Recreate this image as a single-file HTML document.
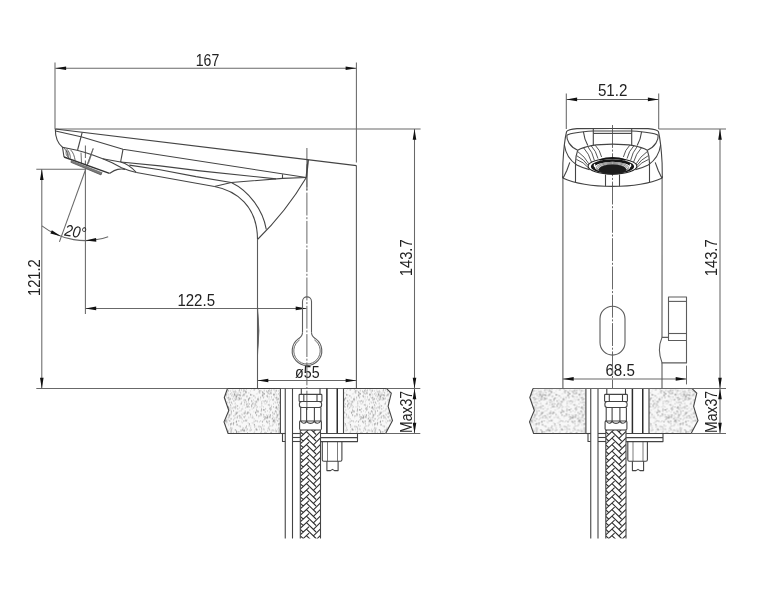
<!DOCTYPE html>
<html lang="en"><head><meta charset="utf-8"><title>Faucet dimension drawing</title>
<style>
html,body{margin:0;padding:0;background:#fff;}
body{width:770px;height:600px;overflow:hidden;}
svg{display:block;filter:grayscale(1);}
.o{fill:none;stroke:#5c5c5c;stroke-width:1.1;stroke-linecap:butt;stroke-linejoin:round;}
.d{fill:none;stroke:#686868;stroke-width:1.05;}
.c{fill:none;stroke:#686868;stroke-width:1.0;stroke-dasharray:22.9 1.7 2.0 1.7;}
.a{fill:#111;stroke:none;}
.u .o{stroke:#444;}
.t{font-family:"Liberation Sans",sans-serif;font-size:16.2px;fill:#222;}
.i{font-style:italic;}
</style></head>
<body>
<svg width="770" height="600" viewBox="0 0 770 600">
<defs>
<pattern id="stip" x="224" y="388.45" width="48" height="45" patternUnits="userSpaceOnUse">
<rect width="48" height="45" fill="#f8f8f8"/>
<circle cx="15.5" cy="6.8" r="0.50" fill="#7c7c7c"/>
<circle cx="39.4" cy="4.2" r="0.48" fill="#848484"/>
<circle cx="10.3" cy="3.9" r="0.44" fill="#8c8c8c"/>
<circle cx="4.4" cy="19.1" r="0.55" fill="#7c7c7c"/>
<circle cx="45.5" cy="28.4" r="0.48" fill="#7c7c7c"/>
<circle cx="27.7" cy="17.9" r="0.59" fill="#7c7c7c"/>
<circle cx="26.7" cy="6.0" r="0.44" fill="#848484"/>
<circle cx="5.7" cy="13.9" r="0.55" fill="#8c8c8c"/>
<circle cx="4.9" cy="25.7" r="0.37" fill="#7c7c7c"/>
<circle cx="26.3" cy="2.8" r="0.34" fill="#8c8c8c"/>
<circle cx="23.8" cy="23.9" r="0.54" fill="#9c9c9c"/>
<circle cx="28.1" cy="20.4" r="0.40" fill="#8c8c8c"/>
<circle cx="33.6" cy="11.0" r="0.48" fill="#848484"/>
<circle cx="23.8" cy="15.5" r="0.45" fill="#848484"/>
<circle cx="47.0" cy="5.3" r="0.44" fill="#707070"/>
<circle cx="7.3" cy="22.0" r="0.33" fill="#7c7c7c"/>
<circle cx="36.7" cy="25.8" r="0.57" fill="#707070"/>
<circle cx="16.3" cy="15.8" r="0.46" fill="#9c9c9c"/>
<circle cx="3.3" cy="4.2" r="0.40" fill="#7c7c7c"/>
<circle cx="2.9" cy="31.6" r="0.50" fill="#9c9c9c"/>
<circle cx="13.7" cy="17.4" r="0.51" fill="#7c7c7c"/>
<circle cx="45.2" cy="16.0" r="0.49" fill="#9c9c9c"/>
<circle cx="2.8" cy="34.6" r="0.36" fill="#8c8c8c"/>
<circle cx="19.1" cy="41.3" r="0.46" fill="#8c8c8c"/>
<circle cx="21.6" cy="24.7" r="0.57" fill="#9c9c9c"/>
<circle cx="41.5" cy="12.5" r="0.44" fill="#707070"/>
<circle cx="32.8" cy="17.1" r="0.38" fill="#7c7c7c"/>
<circle cx="8.5" cy="10.4" r="0.39" fill="#9c9c9c"/>
<circle cx="39.9" cy="8.2" r="0.40" fill="#8c8c8c"/>
<circle cx="20.1" cy="16.6" r="0.48" fill="#8c8c8c"/>
<circle cx="33.1" cy="23.2" r="0.49" fill="#7c7c7c"/>
<circle cx="21.9" cy="39.2" r="0.59" fill="#848484"/>
<circle cx="18.8" cy="18.0" r="0.35" fill="#9c9c9c"/>
<circle cx="3.0" cy="3.0" r="0.38" fill="#8c8c8c"/>
<circle cx="5.3" cy="27.0" r="0.35" fill="#848484"/>
<circle cx="7.3" cy="4.6" r="0.42" fill="#7c7c7c"/>
<circle cx="3.4" cy="9.4" r="0.43" fill="#707070"/>
<circle cx="45.9" cy="27.1" r="0.45" fill="#7c7c7c"/>
<circle cx="40.7" cy="44.7" r="0.45" fill="#9c9c9c"/>
<circle cx="15.0" cy="6.5" r="0.53" fill="#707070"/>
<circle cx="23.0" cy="31.1" r="0.46" fill="#8c8c8c"/>
<circle cx="45.6" cy="23.8" r="0.36" fill="#848484"/>
<circle cx="43.9" cy="34.1" r="0.40" fill="#7c7c7c"/>
<circle cx="33.4" cy="11.8" r="0.42" fill="#8c8c8c"/>
<circle cx="17.1" cy="10.0" r="0.47" fill="#848484"/>
<circle cx="15.8" cy="10.0" r="0.55" fill="#8c8c8c"/>
<circle cx="38.7" cy="36.8" r="0.53" fill="#8c8c8c"/>
<circle cx="9.6" cy="22.2" r="0.52" fill="#7c7c7c"/>
<circle cx="37.9" cy="21.3" r="0.37" fill="#848484"/>
<circle cx="45.9" cy="20.1" r="0.58" fill="#707070"/>
<circle cx="45.8" cy="16.4" r="0.38" fill="#8c8c8c"/>
<circle cx="22.6" cy="15.2" r="0.46" fill="#848484"/>
<circle cx="40.3" cy="21.6" r="0.50" fill="#7c7c7c"/>
<circle cx="40.1" cy="5.4" r="0.43" fill="#8c8c8c"/>
<circle cx="22.9" cy="8.0" r="0.54" fill="#707070"/>
<circle cx="4.2" cy="42.6" r="0.52" fill="#9c9c9c"/>
<circle cx="19.3" cy="42.6" r="0.52" fill="#8c8c8c"/>
<circle cx="47.7" cy="1.2" r="0.49" fill="#9c9c9c"/>
<circle cx="38.7" cy="6.6" r="0.55" fill="#9c9c9c"/>
<circle cx="31.5" cy="15.8" r="0.47" fill="#8c8c8c"/>
<circle cx="1.0" cy="36.0" r="0.52" fill="#7c7c7c"/>
<circle cx="25.3" cy="42.0" r="0.44" fill="#8c8c8c"/>
<circle cx="39.7" cy="9.5" r="0.39" fill="#707070"/>
<circle cx="24.1" cy="34.4" r="0.41" fill="#848484"/>
<circle cx="20.1" cy="5.9" r="0.57" fill="#707070"/>
<circle cx="43.1" cy="29.8" r="0.55" fill="#848484"/>
<circle cx="20.2" cy="41.3" r="0.46" fill="#848484"/>
<circle cx="7.3" cy="23.0" r="0.56" fill="#8c8c8c"/>
<circle cx="29.2" cy="34.9" r="0.36" fill="#8c8c8c"/>
<circle cx="22.7" cy="32.6" r="0.48" fill="#707070"/>
<circle cx="32.8" cy="23.9" r="0.46" fill="#7c7c7c"/>
<circle cx="42.4" cy="2.6" r="0.37" fill="#7c7c7c"/>
<circle cx="37.1" cy="22.8" r="0.48" fill="#7c7c7c"/>
<circle cx="21.3" cy="27.6" r="0.46" fill="#848484"/>
<circle cx="9.6" cy="12.5" r="0.46" fill="#9c9c9c"/>
<circle cx="24.4" cy="11.1" r="0.47" fill="#707070"/>
<circle cx="44.3" cy="40.2" r="0.38" fill="#9c9c9c"/>
<circle cx="6.6" cy="5.5" r="0.44" fill="#7c7c7c"/>
<circle cx="32.2" cy="19.3" r="0.38" fill="#707070"/>
<circle cx="37.6" cy="40.4" r="0.36" fill="#707070"/>
<circle cx="6.9" cy="39.7" r="0.59" fill="#8c8c8c"/>
<circle cx="35.8" cy="4.2" r="0.57" fill="#8c8c8c"/>
<circle cx="47.5" cy="37.5" r="0.37" fill="#9c9c9c"/>
<circle cx="47.7" cy="18.2" r="0.44" fill="#707070"/>
<circle cx="15.3" cy="32.5" r="0.33" fill="#848484"/>
<circle cx="22.0" cy="31.6" r="0.43" fill="#848484"/>
<circle cx="29.9" cy="23.1" r="0.34" fill="#8c8c8c"/>
<circle cx="46.6" cy="4.7" r="0.39" fill="#7c7c7c"/>
<circle cx="43.5" cy="8.2" r="0.53" fill="#9c9c9c"/>
<circle cx="40.8" cy="30.4" r="0.58" fill="#9c9c9c"/>
<circle cx="7.2" cy="41.4" r="0.48" fill="#707070"/>
<circle cx="4.3" cy="2.6" r="0.51" fill="#9c9c9c"/>
<circle cx="43.0" cy="12.1" r="0.32" fill="#7c7c7c"/>
<circle cx="38.5" cy="3.8" r="0.56" fill="#7c7c7c"/>
<circle cx="12.7" cy="5.5" r="0.32" fill="#848484"/>
<circle cx="20.1" cy="41.2" r="0.49" fill="#7c7c7c"/>
<circle cx="25.3" cy="10.7" r="0.35" fill="#8c8c8c"/>
<circle cx="12.6" cy="8.2" r="0.58" fill="#707070"/>
<circle cx="25.5" cy="9.3" r="0.44" fill="#8c8c8c"/>
<circle cx="13.0" cy="36.2" r="0.60" fill="#7c7c7c"/>
<circle cx="0.7" cy="33.0" r="0.47" fill="#8c8c8c"/>
<circle cx="24.7" cy="11.1" r="0.45" fill="#9c9c9c"/>
<circle cx="31.5" cy="24.6" r="0.57" fill="#848484"/>
<circle cx="14.8" cy="9.7" r="0.38" fill="#8c8c8c"/>
<circle cx="39.9" cy="31.8" r="0.50" fill="#9c9c9c"/>
<circle cx="47.5" cy="44.2" r="0.55" fill="#7c7c7c"/>
<circle cx="3.4" cy="33.3" r="0.39" fill="#8c8c8c"/>
<circle cx="2.7" cy="29.9" r="0.43" fill="#848484"/>
<circle cx="32.2" cy="12.7" r="0.39" fill="#707070"/>
<circle cx="2.2" cy="8.3" r="0.40" fill="#7c7c7c"/>
<circle cx="12.6" cy="43.3" r="0.59" fill="#848484"/>
<circle cx="15.5" cy="1.6" r="0.57" fill="#8c8c8c"/>
<circle cx="17.1" cy="0.0" r="0.43" fill="#9c9c9c"/>
<circle cx="13.4" cy="29.5" r="0.39" fill="#7c7c7c"/>
<circle cx="4.4" cy="36.8" r="0.36" fill="#848484"/>
<circle cx="2.0" cy="1.0" r="0.41" fill="#8c8c8c"/>
<circle cx="4.1" cy="43.1" r="0.56" fill="#8c8c8c"/>
<circle cx="31.6" cy="32.2" r="0.57" fill="#9c9c9c"/>
<circle cx="36.7" cy="32.4" r="0.46" fill="#707070"/>
<circle cx="34.8" cy="28.9" r="0.33" fill="#848484"/>
<circle cx="30.1" cy="33.0" r="0.55" fill="#8c8c8c"/>
<circle cx="43.7" cy="33.9" r="0.48" fill="#7c7c7c"/>
<circle cx="39.7" cy="26.3" r="0.57" fill="#8c8c8c"/>
<circle cx="4.1" cy="1.9" r="0.50" fill="#7c7c7c"/>
<circle cx="18.1" cy="20.3" r="0.33" fill="#7c7c7c"/>
<circle cx="30.1" cy="30.6" r="0.46" fill="#7c7c7c"/>
<circle cx="21.9" cy="3.2" r="0.58" fill="#848484"/>
<circle cx="4.4" cy="23.7" r="0.53" fill="#9c9c9c"/>
<circle cx="12.1" cy="3.4" r="0.39" fill="#8c8c8c"/>
<circle cx="11.1" cy="29.2" r="0.45" fill="#9c9c9c"/>
<circle cx="3.7" cy="41.0" r="0.40" fill="#7c7c7c"/>
<circle cx="29.6" cy="28.9" r="0.34" fill="#8c8c8c"/>
<circle cx="15.9" cy="29.3" r="0.51" fill="#848484"/>
<circle cx="27.3" cy="0.6" r="0.34" fill="#707070"/>
<circle cx="46.7" cy="4.5" r="0.38" fill="#9c9c9c"/>
<circle cx="14.0" cy="23.2" r="0.45" fill="#9c9c9c"/>
<circle cx="36.8" cy="44.7" r="0.47" fill="#707070"/>
<circle cx="47.0" cy="42.1" r="0.32" fill="#9c9c9c"/>
<circle cx="3.7" cy="22.8" r="0.60" fill="#707070"/>
<circle cx="18.6" cy="41.2" r="0.58" fill="#7c7c7c"/>
<circle cx="27.9" cy="6.4" r="0.47" fill="#707070"/>
<circle cx="6.4" cy="36.9" r="0.46" fill="#7c7c7c"/>
<circle cx="33.8" cy="10.4" r="0.57" fill="#9c9c9c"/>
<circle cx="18.9" cy="7.2" r="0.59" fill="#9c9c9c"/>
<circle cx="19.5" cy="32.7" r="0.44" fill="#9c9c9c"/>
<circle cx="15.2" cy="37.8" r="0.32" fill="#707070"/>
<circle cx="40.3" cy="5.4" r="0.58" fill="#7c7c7c"/>
<circle cx="43.3" cy="13.0" r="0.42" fill="#9c9c9c"/>
<circle cx="18.7" cy="39.1" r="0.34" fill="#9c9c9c"/>
<circle cx="36.3" cy="38.4" r="0.40" fill="#7c7c7c"/>
<circle cx="40.1" cy="12.9" r="0.58" fill="#8c8c8c"/>
<circle cx="46.6" cy="19.6" r="0.41" fill="#707070"/>
<circle cx="37.7" cy="19.2" r="0.33" fill="#9c9c9c"/>
<circle cx="43.8" cy="42.3" r="0.47" fill="#7c7c7c"/>
<circle cx="2.4" cy="33.0" r="0.45" fill="#8c8c8c"/>
<circle cx="30.9" cy="12.9" r="0.33" fill="#848484"/>
<circle cx="6.1" cy="21.2" r="0.42" fill="#707070"/>
<circle cx="12.3" cy="33.2" r="0.50" fill="#9c9c9c"/>
<circle cx="31.5" cy="13.5" r="0.48" fill="#9c9c9c"/>
<circle cx="5.7" cy="28.9" r="0.34" fill="#848484"/>
<circle cx="43.5" cy="22.4" r="0.38" fill="#707070"/>
<circle cx="47.8" cy="20.2" r="0.36" fill="#8c8c8c"/>
<circle cx="11.7" cy="7.9" r="0.48" fill="#707070"/>
<circle cx="11.5" cy="11.6" r="0.48" fill="#7c7c7c"/>
<circle cx="36.0" cy="18.6" r="0.44" fill="#848484"/>
<circle cx="10.1" cy="12.2" r="0.53" fill="#9c9c9c"/>
<circle cx="13.3" cy="43.5" r="0.36" fill="#848484"/>
<circle cx="25.4" cy="35.6" r="0.56" fill="#7c7c7c"/>
<circle cx="13.0" cy="11.2" r="0.43" fill="#9c9c9c"/>
<circle cx="20.7" cy="14.0" r="0.55" fill="#7c7c7c"/>
<circle cx="6.1" cy="19.1" r="0.53" fill="#9c9c9c"/>
<circle cx="46.5" cy="22.0" r="0.34" fill="#848484"/>
<circle cx="41.1" cy="43.8" r="0.39" fill="#7c7c7c"/>
<circle cx="10.7" cy="6.8" r="0.59" fill="#7c7c7c"/>
<circle cx="45.2" cy="32.5" r="0.50" fill="#9c9c9c"/>
<circle cx="4.1" cy="35.0" r="0.32" fill="#8c8c8c"/>
<circle cx="11.2" cy="41.4" r="0.50" fill="#707070"/>
<circle cx="46.2" cy="28.2" r="0.47" fill="#9c9c9c"/>
<circle cx="33.5" cy="5.0" r="0.34" fill="#848484"/>
<circle cx="45.3" cy="8.6" r="0.39" fill="#848484"/>
<circle cx="0.1" cy="24.2" r="0.60" fill="#707070"/>
<circle cx="46.0" cy="29.0" r="0.57" fill="#9c9c9c"/>
<circle cx="25.3" cy="24.6" r="0.33" fill="#9c9c9c"/>
<circle cx="33.8" cy="13.8" r="0.33" fill="#9c9c9c"/>
<circle cx="42.5" cy="29.1" r="0.34" fill="#8c8c8c"/>
<circle cx="32.0" cy="41.6" r="0.38" fill="#7c7c7c"/>
<circle cx="33.4" cy="32.3" r="0.42" fill="#9c9c9c"/>
<circle cx="9.5" cy="35.9" r="0.53" fill="#848484"/>
<circle cx="3.2" cy="22.3" r="0.38" fill="#8c8c8c"/>
<circle cx="11.1" cy="10.0" r="0.53" fill="#707070"/>
<circle cx="5.2" cy="28.1" r="0.49" fill="#8c8c8c"/>
<circle cx="23.3" cy="41.0" r="0.34" fill="#848484"/>
<circle cx="7.0" cy="17.7" r="0.38" fill="#848484"/>
<circle cx="6.8" cy="2.3" r="0.34" fill="#9c9c9c"/>
<circle cx="21.6" cy="32.0" r="0.41" fill="#7c7c7c"/>
<circle cx="47.9" cy="41.9" r="0.41" fill="#8c8c8c"/>
<circle cx="31.3" cy="23.6" r="0.45" fill="#707070"/>
<circle cx="31.9" cy="17.0" r="0.42" fill="#707070"/>
<circle cx="21.2" cy="4.9" r="0.34" fill="#7c7c7c"/>
<circle cx="16.9" cy="43.0" r="0.35" fill="#8c8c8c"/>
<circle cx="18.2" cy="34.6" r="0.41" fill="#9c9c9c"/>
<circle cx="4.2" cy="31.7" r="0.37" fill="#848484"/>
<circle cx="44.1" cy="8.7" r="0.42" fill="#9c9c9c"/>
<circle cx="1.5" cy="18.5" r="0.55" fill="#9c9c9c"/>
<circle cx="2.0" cy="1.6" r="0.34" fill="#7c7c7c"/>
<circle cx="12.3" cy="33.6" r="0.57" fill="#707070"/>
<circle cx="17.4" cy="15.1" r="0.59" fill="#7c7c7c"/>
<circle cx="12.6" cy="32.2" r="0.41" fill="#707070"/>
<circle cx="14.3" cy="32.5" r="0.49" fill="#7c7c7c"/>
<circle cx="1.2" cy="10.5" r="0.45" fill="#9c9c9c"/>
<circle cx="45.8" cy="17.4" r="0.39" fill="#9c9c9c"/>
<circle cx="39.1" cy="6.0" r="0.46" fill="#7c7c7c"/>
<circle cx="38.5" cy="33.2" r="0.55" fill="#8c8c8c"/>
<circle cx="29.1" cy="14.8" r="0.41" fill="#707070"/>
<circle cx="37.6" cy="26.8" r="0.46" fill="#9c9c9c"/>
<circle cx="36.1" cy="11.1" r="0.34" fill="#7c7c7c"/>
<circle cx="23.1" cy="24.5" r="0.36" fill="#9c9c9c"/>
<circle cx="42.4" cy="44.5" r="0.39" fill="#7c7c7c"/>
<circle cx="10.0" cy="18.9" r="0.60" fill="#9c9c9c"/>
<circle cx="8.3" cy="6.0" r="0.45" fill="#8c8c8c"/>
<circle cx="35.9" cy="38.1" r="0.51" fill="#7c7c7c"/>
<circle cx="37.4" cy="13.2" r="0.40" fill="#707070"/>
<circle cx="17.9" cy="33.2" r="0.38" fill="#8c8c8c"/>
<circle cx="8.9" cy="10.6" r="0.40" fill="#848484"/>
<circle cx="9.0" cy="2.9" r="0.39" fill="#8c8c8c"/>
<circle cx="24.4" cy="10.4" r="0.55" fill="#9c9c9c"/>
<circle cx="47.6" cy="4.6" r="0.45" fill="#8c8c8c"/>
<circle cx="40.3" cy="41.1" r="0.33" fill="#707070"/>
<circle cx="11.2" cy="2.3" r="0.49" fill="#848484"/>
<circle cx="9.3" cy="3.4" r="0.46" fill="#8c8c8c"/>
<circle cx="21.6" cy="11.7" r="0.54" fill="#7c7c7c"/>
<circle cx="5.1" cy="26.8" r="0.49" fill="#8c8c8c"/>
<circle cx="1.8" cy="15.3" r="0.33" fill="#707070"/>
<circle cx="1.8" cy="33.0" r="0.58" fill="#7c7c7c"/>
<circle cx="39.3" cy="18.4" r="0.42" fill="#848484"/>
<circle cx="15.0" cy="9.2" r="0.54" fill="#848484"/>
<circle cx="23.2" cy="18.4" r="0.54" fill="#848484"/>
<circle cx="7.4" cy="24.0" r="0.50" fill="#9c9c9c"/>
<circle cx="33.4" cy="18.4" r="0.40" fill="#707070"/>
<circle cx="20.1" cy="2.3" r="0.53" fill="#707070"/>
<circle cx="19.9" cy="0.8" r="0.53" fill="#707070"/>
<circle cx="30.9" cy="17.6" r="0.43" fill="#7c7c7c"/>
<circle cx="20.8" cy="7.0" r="0.35" fill="#7c7c7c"/>
<circle cx="19.5" cy="39.7" r="0.45" fill="#8c8c8c"/>
<circle cx="6.2" cy="2.3" r="0.36" fill="#9c9c9c"/>
<circle cx="4.3" cy="28.0" r="0.42" fill="#848484"/>
<circle cx="8.2" cy="15.7" r="0.37" fill="#8c8c8c"/>
<circle cx="44.4" cy="4.9" r="0.46" fill="#8c8c8c"/>
<circle cx="14.5" cy="37.7" r="0.33" fill="#9c9c9c"/>
<circle cx="15.1" cy="27.3" r="0.50" fill="#7c7c7c"/>
<circle cx="43.4" cy="27.9" r="0.55" fill="#8c8c8c"/>
<circle cx="30.7" cy="38.5" r="0.49" fill="#848484"/>
<circle cx="40.6" cy="37.3" r="0.37" fill="#8c8c8c"/>
<circle cx="2.0" cy="42.2" r="0.36" fill="#707070"/>
<circle cx="5.9" cy="11.1" r="0.52" fill="#8c8c8c"/>
<circle cx="2.0" cy="25.3" r="0.53" fill="#7c7c7c"/>
<circle cx="32.1" cy="14.6" r="0.43" fill="#9c9c9c"/>
<circle cx="26.4" cy="28.2" r="0.41" fill="#9c9c9c"/>
<circle cx="14.8" cy="11.2" r="0.43" fill="#707070"/>
<circle cx="21.4" cy="19.7" r="0.33" fill="#848484"/>
<circle cx="47.3" cy="20.9" r="0.45" fill="#848484"/>
<circle cx="37.4" cy="20.6" r="0.37" fill="#9c9c9c"/>
<circle cx="19.2" cy="3.0" r="0.42" fill="#707070"/>
<circle cx="4.4" cy="19.9" r="0.46" fill="#7c7c7c"/>
<circle cx="2.0" cy="5.9" r="0.58" fill="#707070"/>
<circle cx="37.3" cy="23.0" r="0.34" fill="#848484"/>
<circle cx="43.0" cy="29.4" r="0.54" fill="#7c7c7c"/>
<circle cx="41.1" cy="44.8" r="0.52" fill="#7c7c7c"/>
<circle cx="9.3" cy="44.2" r="0.46" fill="#8c8c8c"/>
<circle cx="32.9" cy="32.4" r="0.38" fill="#707070"/>
<circle cx="29.3" cy="11.3" r="0.41" fill="#848484"/>
<circle cx="13.2" cy="36.7" r="0.36" fill="#848484"/>
<circle cx="46.3" cy="21.6" r="0.49" fill="#848484"/>
<circle cx="24.3" cy="14.4" r="0.33" fill="#8c8c8c"/>
<circle cx="19.4" cy="28.6" r="0.40" fill="#707070"/>
<circle cx="43.0" cy="7.6" r="0.54" fill="#7c7c7c"/>
<circle cx="36.9" cy="2.2" r="0.56" fill="#9c9c9c"/>
<circle cx="26.6" cy="26.1" r="0.57" fill="#7c7c7c"/>
<circle cx="12.1" cy="24.1" r="0.56" fill="#707070"/>
<circle cx="12.7" cy="44.6" r="0.48" fill="#707070"/>
<circle cx="15.9" cy="3.7" r="0.38" fill="#848484"/>
<circle cx="35.7" cy="2.2" r="0.55" fill="#707070"/>
<circle cx="14.9" cy="43.5" r="0.56" fill="#707070"/>
<circle cx="35.2" cy="33.6" r="0.38" fill="#707070"/>
<circle cx="29.6" cy="19.5" r="0.46" fill="#7c7c7c"/>
<circle cx="6.3" cy="10.2" r="0.50" fill="#7c7c7c"/>
<circle cx="2.6" cy="25.5" r="0.41" fill="#848484"/>
<circle cx="17.1" cy="10.1" r="0.48" fill="#848484"/>
<circle cx="6.4" cy="16.5" r="0.55" fill="#8c8c8c"/>
<circle cx="6.5" cy="42.1" r="0.39" fill="#8c8c8c"/>
<circle cx="21.6" cy="2.9" r="0.36" fill="#707070"/>
<circle cx="19.3" cy="11.9" r="0.32" fill="#848484"/>
<circle cx="42.8" cy="26.8" r="0.48" fill="#848484"/>
<circle cx="45.0" cy="33.0" r="0.39" fill="#7c7c7c"/>
<circle cx="2.1" cy="23.9" r="0.43" fill="#8c8c8c"/>
<circle cx="7.6" cy="41.0" r="0.35" fill="#848484"/>
<circle cx="26.4" cy="42.3" r="0.36" fill="#8c8c8c"/>
<circle cx="24.9" cy="28.9" r="0.50" fill="#9c9c9c"/>
<circle cx="39.0" cy="7.9" r="0.41" fill="#707070"/>
<circle cx="30.0" cy="44.7" r="0.52" fill="#9c9c9c"/>
<circle cx="34.3" cy="0.3" r="0.56" fill="#9c9c9c"/>
<circle cx="3.9" cy="29.5" r="0.37" fill="#7c7c7c"/>
<circle cx="12.5" cy="29.0" r="0.35" fill="#707070"/>
<circle cx="34.2" cy="12.0" r="0.48" fill="#9c9c9c"/>
<circle cx="32.9" cy="41.3" r="0.59" fill="#707070"/>
<circle cx="30.8" cy="43.4" r="0.38" fill="#848484"/>
<circle cx="0.7" cy="11.7" r="0.39" fill="#8c8c8c"/>
<circle cx="45.3" cy="33.6" r="0.41" fill="#9c9c9c"/>
<circle cx="15.8" cy="10.8" r="0.57" fill="#848484"/>
<circle cx="22.5" cy="37.8" r="0.52" fill="#7c7c7c"/>
<circle cx="21.0" cy="32.6" r="0.48" fill="#707070"/>
<circle cx="37.9" cy="17.6" r="0.48" fill="#848484"/>
<circle cx="43.7" cy="6.5" r="0.33" fill="#7c7c7c"/>
<circle cx="29.9" cy="7.3" r="0.59" fill="#7c7c7c"/>
<circle cx="1.5" cy="6.2" r="0.50" fill="#7c7c7c"/>
<circle cx="33.5" cy="33.2" r="0.34" fill="#848484"/>
<circle cx="36.6" cy="9.0" r="0.59" fill="#848484"/>
<circle cx="42.8" cy="3.0" r="0.56" fill="#9c9c9c"/>
<circle cx="5.1" cy="9.3" r="0.35" fill="#7c7c7c"/>
<circle cx="45.6" cy="41.0" r="0.53" fill="#7c7c7c"/>
<circle cx="39.6" cy="28.4" r="0.40" fill="#7c7c7c"/>
<circle cx="6.4" cy="35.6" r="0.50" fill="#707070"/>
<circle cx="15.3" cy="19.1" r="0.33" fill="#707070"/>
<circle cx="44.6" cy="2.2" r="0.53" fill="#707070"/>
<circle cx="36.9" cy="27.1" r="0.45" fill="#707070"/>
<circle cx="29.7" cy="1.4" r="0.44" fill="#9c9c9c"/>
<circle cx="24.9" cy="4.4" r="0.45" fill="#7c7c7c"/>
<circle cx="25.8" cy="9.7" r="0.56" fill="#7c7c7c"/>
<circle cx="27.6" cy="12.9" r="0.44" fill="#848484"/>
<circle cx="9.7" cy="34.3" r="0.59" fill="#7c7c7c"/>
<circle cx="16.7" cy="4.3" r="0.51" fill="#8c8c8c"/>
<circle cx="46.4" cy="26.7" r="0.59" fill="#848484"/>
<circle cx="12.5" cy="42.5" r="0.40" fill="#8c8c8c"/>
<circle cx="45.0" cy="10.4" r="0.37" fill="#7c7c7c"/>
<circle cx="23.5" cy="44.6" r="0.48" fill="#7c7c7c"/>
<circle cx="30.1" cy="16.0" r="0.43" fill="#9c9c9c"/>
<circle cx="42.8" cy="33.5" r="0.44" fill="#7c7c7c"/>
<circle cx="17.9" cy="13.6" r="0.44" fill="#848484"/>
<circle cx="24.1" cy="17.1" r="0.57" fill="#8c8c8c"/>
<circle cx="45.3" cy="5.7" r="0.49" fill="#848484"/>
<circle cx="31.0" cy="15.7" r="0.41" fill="#8c8c8c"/>
<circle cx="41.7" cy="20.3" r="0.48" fill="#707070"/>
<circle cx="8.1" cy="19.7" r="0.54" fill="#848484"/>
<circle cx="11.1" cy="15.0" r="0.50" fill="#8c8c8c"/>
<circle cx="24.4" cy="12.0" r="0.53" fill="#848484"/>
<circle cx="7.4" cy="7.0" r="0.39" fill="#707070"/>
<circle cx="28.9" cy="15.7" r="0.39" fill="#8c8c8c"/>
<circle cx="12.4" cy="43.0" r="0.60" fill="#8c8c8c"/>
<circle cx="46.2" cy="4.6" r="0.43" fill="#8c8c8c"/>
<circle cx="38.2" cy="33.0" r="0.44" fill="#8c8c8c"/>
<circle cx="5.2" cy="41.0" r="0.40" fill="#9c9c9c"/>
<circle cx="22.3" cy="0.6" r="0.56" fill="#9c9c9c"/>
<circle cx="33.3" cy="22.5" r="0.50" fill="#9c9c9c"/>
<circle cx="1.1" cy="11.6" r="0.53" fill="#7c7c7c"/>
<circle cx="35.6" cy="40.9" r="0.44" fill="#848484"/>
<circle cx="28.2" cy="29.1" r="0.56" fill="#848484"/>
<circle cx="40.9" cy="30.6" r="0.50" fill="#9c9c9c"/>
<circle cx="20.8" cy="11.7" r="0.52" fill="#9c9c9c"/>
<circle cx="11.6" cy="18.0" r="0.52" fill="#8c8c8c"/>
<circle cx="12.0" cy="19.1" r="0.45" fill="#848484"/>
<circle cx="41.2" cy="23.3" r="0.51" fill="#8c8c8c"/>
<circle cx="42.9" cy="14.8" r="0.32" fill="#9c9c9c"/>
<circle cx="43.6" cy="4.8" r="0.39" fill="#8c8c8c"/>
<circle cx="7.7" cy="35.2" r="0.58" fill="#848484"/>
<circle cx="16.7" cy="38.1" r="0.45" fill="#8c8c8c"/>
<circle cx="34.4" cy="23.0" r="0.50" fill="#707070"/>
<circle cx="25.0" cy="18.5" r="0.59" fill="#8c8c8c"/>
<circle cx="47.5" cy="8.3" r="0.46" fill="#7c7c7c"/>
<circle cx="35.0" cy="27.6" r="0.50" fill="#707070"/>
<circle cx="13.2" cy="18.0" r="0.32" fill="#9c9c9c"/>
<circle cx="43.9" cy="28.3" r="0.51" fill="#848484"/>
<circle cx="12.7" cy="10.1" r="0.53" fill="#848484"/>
<circle cx="46.6" cy="44.7" r="0.59" fill="#9c9c9c"/>
<circle cx="10.2" cy="5.8" r="0.54" fill="#8c8c8c"/>
<circle cx="22.5" cy="25.3" r="0.38" fill="#8c8c8c"/>
<circle cx="17.0" cy="28.7" r="0.55" fill="#9c9c9c"/>
<circle cx="22.5" cy="13.2" r="0.47" fill="#8c8c8c"/>
<circle cx="37.4" cy="21.1" r="0.54" fill="#8c8c8c"/>
<circle cx="12.8" cy="16.9" r="0.39" fill="#9c9c9c"/>
<circle cx="32.6" cy="21.7" r="0.55" fill="#707070"/>
<circle cx="17.2" cy="29.4" r="0.41" fill="#9c9c9c"/>
<circle cx="20.6" cy="28.7" r="0.50" fill="#707070"/>
<circle cx="7.3" cy="13.6" r="0.43" fill="#7c7c7c"/>
<circle cx="39.7" cy="40.8" r="0.54" fill="#8c8c8c"/>
<circle cx="25.5" cy="15.5" r="0.48" fill="#7c7c7c"/>
<circle cx="10.1" cy="3.2" r="0.40" fill="#848484"/>
<circle cx="4.9" cy="6.4" r="0.39" fill="#9c9c9c"/>
<circle cx="16.6" cy="6.9" r="0.57" fill="#848484"/>
<circle cx="8.1" cy="40.1" r="0.49" fill="#7c7c7c"/>
<circle cx="32.1" cy="40.2" r="0.54" fill="#707070"/>
<circle cx="9.5" cy="31.2" r="0.47" fill="#9c9c9c"/>
<circle cx="32.2" cy="5.3" r="0.35" fill="#9c9c9c"/>
<circle cx="11.2" cy="6.3" r="0.46" fill="#7c7c7c"/>
<circle cx="23.2" cy="40.7" r="0.52" fill="#8c8c8c"/>
<circle cx="23.9" cy="24.3" r="0.56" fill="#7c7c7c"/>
<circle cx="7.7" cy="14.4" r="0.51" fill="#9c9c9c"/>
<circle cx="31.9" cy="37.8" r="0.42" fill="#9c9c9c"/>
<circle cx="48.0" cy="30.4" r="0.37" fill="#707070"/>
<circle cx="30.5" cy="1.3" r="0.49" fill="#707070"/>
<circle cx="38.8" cy="4.2" r="0.46" fill="#8c8c8c"/>
<circle cx="1.6" cy="32.3" r="0.50" fill="#707070"/>
<circle cx="4.5" cy="29.7" r="0.42" fill="#848484"/>
<circle cx="26.6" cy="41.1" r="0.40" fill="#707070"/>
<circle cx="20.3" cy="24.9" r="0.55" fill="#707070"/>
<circle cx="17.0" cy="22.2" r="0.41" fill="#707070"/>
<circle cx="41.9" cy="15.5" r="0.38" fill="#9c9c9c"/>
<circle cx="38.0" cy="14.9" r="0.41" fill="#707070"/>
<circle cx="6.1" cy="43.8" r="0.34" fill="#7c7c7c"/>
<circle cx="19.1" cy="24.9" r="0.43" fill="#848484"/>
<circle cx="2.4" cy="13.5" r="0.32" fill="#8c8c8c"/>
<circle cx="39.5" cy="21.4" r="0.53" fill="#7c7c7c"/>
<circle cx="37.9" cy="40.9" r="0.49" fill="#848484"/>
<circle cx="7.1" cy="30.3" r="0.51" fill="#7c7c7c"/>
<circle cx="10.2" cy="30.0" r="0.45" fill="#8c8c8c"/>
<circle cx="4.9" cy="8.2" r="0.33" fill="#7c7c7c"/>
<circle cx="43.9" cy="29.5" r="0.42" fill="#8c8c8c"/>
<circle cx="37.8" cy="25.3" r="0.39" fill="#707070"/>
<circle cx="8.9" cy="1.5" r="0.33" fill="#848484"/>
<circle cx="30.8" cy="42.0" r="0.34" fill="#848484"/>
<circle cx="25.1" cy="37.1" r="0.54" fill="#9c9c9c"/>
<circle cx="27.6" cy="41.3" r="0.45" fill="#7c7c7c"/>
<circle cx="32.6" cy="26.7" r="0.60" fill="#8c8c8c"/>
<circle cx="22.8" cy="18.6" r="0.35" fill="#9c9c9c"/>
<circle cx="10.2" cy="6.8" r="0.32" fill="#7c7c7c"/>
<circle cx="0.4" cy="30.1" r="0.60" fill="#7c7c7c"/>
<circle cx="10.5" cy="5.5" r="0.45" fill="#707070"/>
<circle cx="34.5" cy="10.9" r="0.53" fill="#8c8c8c"/>
<circle cx="44.3" cy="16.5" r="0.53" fill="#8c8c8c"/>
<circle cx="35.0" cy="3.8" r="0.50" fill="#9c9c9c"/>
<circle cx="22.1" cy="42.0" r="0.39" fill="#7c7c7c"/>
<circle cx="34.4" cy="0.5" r="0.32" fill="#848484"/>
<circle cx="3.8" cy="14.0" r="0.52" fill="#8c8c8c"/>
<circle cx="46.0" cy="37.6" r="0.49" fill="#707070"/>
<circle cx="17.6" cy="25.9" r="0.44" fill="#8c8c8c"/>
<circle cx="7.0" cy="35.9" r="0.42" fill="#8c8c8c"/>
<circle cx="30.2" cy="18.8" r="0.43" fill="#9c9c9c"/>
<circle cx="45.4" cy="35.3" r="0.48" fill="#707070"/>
<circle cx="13.4" cy="28.0" r="0.50" fill="#848484"/>
<circle cx="15.9" cy="27.3" r="0.59" fill="#8c8c8c"/>
<circle cx="28.9" cy="13.9" r="0.44" fill="#8c8c8c"/>
<circle cx="18.1" cy="30.8" r="0.49" fill="#8c8c8c"/>
<circle cx="38.8" cy="12.7" r="0.32" fill="#707070"/>
<circle cx="12.9" cy="7.1" r="0.58" fill="#7c7c7c"/>
<circle cx="13.8" cy="6.3" r="0.57" fill="#848484"/>
<circle cx="7.1" cy="43.9" r="0.54" fill="#848484"/>
<circle cx="32.9" cy="41.1" r="0.42" fill="#7c7c7c"/>
<circle cx="25.9" cy="21.8" r="0.43" fill="#8c8c8c"/>
<circle cx="14.9" cy="2.6" r="0.43" fill="#8c8c8c"/>
<circle cx="44.4" cy="26.4" r="0.32" fill="#9c9c9c"/>
<circle cx="22.1" cy="3.9" r="0.55" fill="#7c7c7c"/>
<circle cx="11.2" cy="26.1" r="0.57" fill="#848484"/>
<circle cx="15.4" cy="22.8" r="0.38" fill="#8c8c8c"/>
<circle cx="9.2" cy="8.1" r="0.52" fill="#707070"/>
<circle cx="27.7" cy="16.2" r="0.54" fill="#8c8c8c"/>
<circle cx="11.8" cy="41.5" r="0.46" fill="#7c7c7c"/>
<circle cx="17.8" cy="20.9" r="0.34" fill="#707070"/>
<circle cx="28.7" cy="15.5" r="0.47" fill="#7c7c7c"/>
<circle cx="4.5" cy="9.2" r="0.56" fill="#848484"/>
<circle cx="23.3" cy="25.5" r="0.39" fill="#707070"/>
<circle cx="20.4" cy="42.6" r="0.53" fill="#848484"/>
<circle cx="46.2" cy="11.4" r="0.33" fill="#8c8c8c"/>
<circle cx="47.7" cy="17.0" r="0.33" fill="#7c7c7c"/>
<circle cx="26.8" cy="39.2" r="0.45" fill="#7c7c7c"/>
<circle cx="41.4" cy="28.8" r="0.58" fill="#7c7c7c"/>
<circle cx="12.3" cy="25.4" r="0.50" fill="#848484"/>
<circle cx="18.9" cy="20.2" r="0.36" fill="#8c8c8c"/>
<circle cx="47.6" cy="10.0" r="0.33" fill="#707070"/>
<circle cx="45.2" cy="2.7" r="0.47" fill="#7c7c7c"/>
<circle cx="40.2" cy="2.1" r="0.54" fill="#9c9c9c"/>
<circle cx="2.7" cy="6.5" r="0.53" fill="#8c8c8c"/>
<circle cx="32.5" cy="13.4" r="0.49" fill="#7c7c7c"/>
<circle cx="22.6" cy="16.7" r="0.43" fill="#707070"/>
<circle cx="23.1" cy="7.6" r="0.39" fill="#8c8c8c"/>
<circle cx="43.9" cy="40.1" r="0.45" fill="#8c8c8c"/>
<circle cx="38.3" cy="7.1" r="0.55" fill="#7c7c7c"/>
<circle cx="44.8" cy="39.0" r="0.57" fill="#8c8c8c"/>
<circle cx="37.4" cy="43.1" r="0.58" fill="#9c9c9c"/>
<circle cx="40.4" cy="28.3" r="0.45" fill="#707070"/>
<circle cx="15.5" cy="10.5" r="0.35" fill="#707070"/>
<circle cx="6.9" cy="10.0" r="0.34" fill="#9c9c9c"/>
<circle cx="26.6" cy="6.5" r="0.56" fill="#707070"/>
<circle cx="20.1" cy="11.1" r="0.33" fill="#848484"/>
<circle cx="40.3" cy="15.1" r="0.37" fill="#9c9c9c"/>
<circle cx="5.2" cy="20.5" r="0.46" fill="#8c8c8c"/>
<circle cx="47.0" cy="2.6" r="0.57" fill="#8c8c8c"/>
<circle cx="26.9" cy="37.6" r="0.35" fill="#8c8c8c"/>
<circle cx="46.6" cy="19.4" r="0.39" fill="#8c8c8c"/>
<circle cx="44.4" cy="4.4" r="0.40" fill="#8c8c8c"/>
<circle cx="2.8" cy="32.7" r="0.40" fill="#7c7c7c"/>
<circle cx="21.2" cy="22.9" r="0.46" fill="#9c9c9c"/>
<circle cx="0.1" cy="37.5" r="0.47" fill="#8c8c8c"/>
<circle cx="17.3" cy="1.8" r="0.43" fill="#707070"/>
<circle cx="27.4" cy="6.2" r="0.37" fill="#8c8c8c"/>
<circle cx="34.2" cy="8.9" r="0.34" fill="#7c7c7c"/>
<circle cx="42.7" cy="32.9" r="0.53" fill="#8c8c8c"/>
<circle cx="9.9" cy="27.6" r="0.52" fill="#8c8c8c"/>
<circle cx="28.0" cy="9.1" r="0.34" fill="#848484"/>
<circle cx="19.6" cy="32.5" r="0.34" fill="#707070"/>
<circle cx="16.1" cy="37.9" r="0.56" fill="#9c9c9c"/>
<circle cx="4.3" cy="18.4" r="0.53" fill="#8c8c8c"/>
<circle cx="41.9" cy="12.0" r="0.37" fill="#707070"/>
<circle cx="1.8" cy="31.6" r="0.48" fill="#7c7c7c"/>
<circle cx="17.1" cy="41.9" r="0.59" fill="#7c7c7c"/>
<circle cx="5.8" cy="32.2" r="0.55" fill="#707070"/>
<circle cx="37.4" cy="39.1" r="0.48" fill="#7c7c7c"/>
<circle cx="14.0" cy="4.8" r="0.52" fill="#9c9c9c"/>
<circle cx="24.6" cy="23.9" r="0.47" fill="#7c7c7c"/>
<circle cx="11.7" cy="4.0" r="0.49" fill="#8c8c8c"/>
<circle cx="4.9" cy="11.3" r="0.55" fill="#7c7c7c"/>
<circle cx="0.9" cy="41.7" r="0.53" fill="#707070"/>
<circle cx="0.8" cy="27.0" r="0.48" fill="#848484"/>
<circle cx="11.4" cy="20.0" r="0.42" fill="#7c7c7c"/>
<circle cx="34.4" cy="2.0" r="0.35" fill="#9c9c9c"/>
<circle cx="28.1" cy="34.3" r="0.35" fill="#7c7c7c"/>
<circle cx="19.5" cy="6.2" r="0.49" fill="#8c8c8c"/>
<circle cx="7.1" cy="25.8" r="0.53" fill="#8c8c8c"/>
<circle cx="45.5" cy="0.8" r="0.50" fill="#9c9c9c"/>
<circle cx="28.7" cy="27.1" r="0.33" fill="#7c7c7c"/>
<circle cx="37.3" cy="15.2" r="0.39" fill="#707070"/>
<circle cx="34.3" cy="37.9" r="0.48" fill="#707070"/>
<circle cx="39.1" cy="38.1" r="0.33" fill="#848484"/>
<circle cx="7.0" cy="30.6" r="0.42" fill="#9c9c9c"/>
<circle cx="31.8" cy="0.5" r="0.35" fill="#8c8c8c"/>
<circle cx="3.3" cy="19.5" r="0.46" fill="#7c7c7c"/>
<circle cx="10.8" cy="18.9" r="0.43" fill="#9c9c9c"/>
<circle cx="30.4" cy="36.4" r="0.57" fill="#7c7c7c"/>
<circle cx="1.6" cy="28.9" r="0.39" fill="#848484"/>
<circle cx="13.1" cy="24.4" r="0.58" fill="#848484"/>
<circle cx="4.8" cy="5.5" r="0.32" fill="#8c8c8c"/>
<circle cx="45.6" cy="12.9" r="0.41" fill="#8c8c8c"/>
<circle cx="5.8" cy="26.7" r="0.59" fill="#848484"/>
<circle cx="43.3" cy="3.8" r="0.49" fill="#8c8c8c"/>
<circle cx="21.1" cy="23.0" r="0.57" fill="#9c9c9c"/>
<circle cx="27.7" cy="12.3" r="0.53" fill="#848484"/>
<circle cx="13.8" cy="20.4" r="0.51" fill="#8c8c8c"/>
<circle cx="31.2" cy="9.1" r="0.52" fill="#9c9c9c"/>
<circle cx="42.8" cy="13.7" r="0.45" fill="#707070"/>
<circle cx="1.5" cy="15.0" r="0.37" fill="#848484"/>
<circle cx="18.4" cy="26.4" r="0.32" fill="#707070"/>
<circle cx="7.8" cy="42.8" r="0.41" fill="#707070"/>
</pattern>
<clipPath id="hclip"><rect x="300.3" y="430" width="20.2" height="108.5"/></clipPath>
</defs>
<rect width="770" height="600" fill="#fff"/>
<line class="d" x1="55.00" y1="62.50" x2="55.00" y2="129.00"/>
<line class="d" x1="356.40" y1="62.50" x2="356.40" y2="162.50"/>
<line class="d" x1="55.30" y1="68.30" x2="356.40" y2="68.30"/>
<polygon class="a" points="55.30,68.30 66.10,70.10 66.10,66.50"/>
<polygon class="a" points="356.40,68.30 345.60,66.50 345.60,70.10"/>
<text class="t" text-anchor="middle" x="207.50" y="66.00" textLength="23.5" lengthAdjust="spacingAndGlyphs">167</text>
<line class="d" x1="55.30" y1="129.00" x2="420.60" y2="129.00"/>
<line class="d" x1="414.50" y1="129.00" x2="414.50" y2="433.50"/>
<polygon class="a" points="414.50,129.00 412.70,139.80 416.30,139.80"/>
<polygon class="a" points="414.50,388.45 416.30,377.65 412.70,377.65"/>
<polygon class="a" points="414.50,388.45 412.70,399.25 416.30,399.25"/>
<polygon class="a" points="414.50,433.50 416.30,422.70 412.70,422.70"/>
<text class="t" text-anchor="middle" transform="translate(411.90,257.80) rotate(-90)" textLength="37" lengthAdjust="spacingAndGlyphs">143.7</text>
<text class="t" text-anchor="middle" transform="translate(411.90,412.00) rotate(-90)" textLength="42" lengthAdjust="spacingAndGlyphs">Max37</text>
<line class="d" x1="36.30" y1="388.45" x2="420.30" y2="388.45"/>
<line class="d" x1="385.60" y1="433.50" x2="420.30" y2="433.50"/>
<line class="d" x1="36.30" y1="169.20" x2="85.40" y2="169.20"/>
<line class="d" x1="41.80" y1="169.20" x2="41.80" y2="388.45"/>
<polygon class="a" points="41.80,169.20 40.00,180.00 43.60,180.00"/>
<polygon class="a" points="41.80,388.45 43.60,377.65 40.00,377.65"/>
<text class="t" text-anchor="middle" transform="translate(39.75,277.70) rotate(-90)" textLength="36.6" lengthAdjust="spacingAndGlyphs">121.2</text>
<line class="d" x1="85.40" y1="169.20" x2="85.40" y2="314.00"/>
<line class="d" x1="85.40" y1="145.40" x2="85.40" y2="158.00"/>
<line class="d" x1="85.40" y1="160.50" x2="85.40" y2="164.50"/>
<line class="d" x1="93.30" y1="148.30" x2="59.40" y2="241.90"/>
<path class="d" d="M41.93,225.85 A71.4,71.4 0 0 0 108.17,236.87"/>
<polygon class="a" points="60.98,236.29 51.85,230.26 50.38,233.55"/>
<polygon class="a" points="85.40,240.60 96.30,241.64 96.05,238.05"/>
<text class="t i" text-anchor="middle" transform="translate(74.50,237.20) rotate(9)" textLength="21.5" lengthAdjust="spacingAndGlyphs">20°</text>
<line class="d" x1="85.40" y1="308.40" x2="306.50" y2="308.40"/>
<polygon class="a" points="85.40,308.40 96.20,310.20 96.20,306.60"/>
<polygon class="a" points="306.50,308.40 295.70,306.60 295.70,310.20"/>
<text class="t" text-anchor="middle" x="196.20" y="305.75" textLength="37.6" lengthAdjust="spacingAndGlyphs">122.5</text>
<line class="d" x1="257.50" y1="380.50" x2="356.40" y2="380.50"/>
<polygon class="a" points="257.50,380.50 268.30,382.30 268.30,378.70"/>
<polygon class="a" points="356.40,380.50 345.60,378.70 345.60,382.30"/>
<text class="t" text-anchor="middle" x="307.30" y="378.00" textLength="24.5" lengthAdjust="spacingAndGlyphs">ø55</text>
<line class="d" x1="306.90" y1="148.00" x2="306.90" y2="190.00"/>
<line class="c" x1="306.90" y1="164.30" x2="306.90" y2="410.00"/>
<line class="o" x1="257.50" y1="239.50" x2="257.50" y2="388.45"/>
<line class="o" x1="356.40" y1="165.60" x2="356.40" y2="388.45"/>
<path class="o" d="M257.5,306.5 Q260.3,331 257.5,355 Z" style="fill:#555;stroke-width:0.8"/>
<g class="u">
<line class="o" x1="55.30" y1="129.00" x2="356.40" y2="165.60"/>
<line class="o" x1="308.20" y1="159.90" x2="306.30" y2="177.50" style="stroke-width:1.6"/>
<path class="o" d="M55.3,129 C55.3,136 56.5,142.5 62.5,147.2 L64.0,157"/>
<path class="o" d="M55.6,131 L82,137 L123,149.3 L306.3,177.5"/>
<path class="o" d="M82.2,132.3 L77.6,150"/>
<path class="o" d="M123,149.3 L120.6,162"/>
<path class="o" d="M282.5,174.3 L282.5,178.4"/>
<path class="o" d="M62.5,147.2 L77,150.3 Q86,152.6 93.4,155.25 L102.75,158.7 L112.1,162.75 L121.5,167.8 Q128,170.6 136.4,172.5"/>
<path class="o" d="M102.75,158.7 L120.6,162"/>
<path class="o" d="M64.0,157 L109.5,173.4" style="stroke-width:1.45;stroke:#333"/>
<path class="o" d="M109.5,173.4 C111.5,172.2 113.4,170.6 117.75,169.4 C120,168.9 122.5,168.7 125,169.4"/>
<path class="o" d="M71.6,160.2 L70.9,162.3 L101.0,174.9 L102.0,172.3" style="fill:#7a7a7a;stroke:#555;stroke-width:0.8"/>
<path class="o" d="M64.0,148.0 C66.5,150.5 67.8,154 68.8,158.5 M66.3,148.6 C69.5,151.5 70.6,155.5 70.2,158.6 M70.5,149.8 C73.5,152.5 74.5,156.5 75.2,160.8 M81.0,152.6 L81.5,163.5" style="stroke-width:0.8"/>
<path class="o" d="M66.5,150.5 C65.5,152.5 66.0,155.5 67.6,156.6 C68.6,154.5 68.2,152 66.5,150.5 Z" style="stroke-width:0.7"/>
<path class="d" d="M93.0,149.0 L87.3,164.5 M91.5,154.5 L88.5,163.5" style="stroke-width:0.7"/>
<path class="o" d="M120.6,162 L160,165.9 L200,170.9 L276,178.85"/>
<path class="o" d="M120.6,162 Q129.5,164.5 136.4,172.5"/>
<path class="o" d="M129.3,165.1 L160,169.7 L196,176.6 L231.3,182.5"/>
<path class="o" d="M136.4,172.5 L214.4,186.5"/>
<path class="o" d="M214.4,186.5 L231.3,182.5 L282.5,178.4 L306.3,177.5"/>
<path class="o" d="M214.4,186.5 C236,190.5 257.5,206 257.5,239.5"/>
<path class="o" d="M231.3,182.5 C249,191 263,210 266.3,229.5"/>
<path class="o" d="M306.3,177.5 Q286.2,211.6 257.5,239.5"/>
</g>
<path class="o" d="M302.5,332.5 L302.5,301.4 A4.5,4.5 0 0 1 311.5,301.4 L311.5,332.5"/>
<path class="o" d="M302.5,332.5 C302.5,336.5 300.6,337.3 298.2,338.9 A14.8,14.8 0 1 0 315.8,338.9 C313.4,337.3 311.5,336.5 311.5,332.5"/>
<path class="o" d="M299.6,339.9 A13.2,13.2 0 1 0 314.4,339.9" style="stroke-width:0.9"/>
<g class="u" transform="translate(0,0)">
<path d="M227.5,388.45 L224.3,397.5 L228.8,410.5 L224,421.9 L228.1,433.5 L280.4,433.5 L280.4,388.45 Z" fill="url(#stip)" stroke="none"/>
<path d="M343.5,388.45 L386.3,388.45 L391.3,393.2 L388.1,406.3 L392.5,420.6 L385.6,433.5 L343.5,433.5 Z" fill="url(#stip)" stroke="none"/>
<path class="o" d="M227.5,388.45 L224.3,397.5 L228.8,410.5 L224,421.9 L228.1,433.5 L280.4,433.5"/>
<line class="o" x1="280.40" y1="388.45" x2="280.40" y2="433.50"/>
<path class="o" d="M386.3,388.45 L391.3,393.2 L388.1,406.3 L392.5,420.6 L385.6,433.5"/>
<line class="o" x1="343.50" y1="388.45" x2="343.50" y2="433.50"/>
<line class="o" x1="343.50" y1="433.50" x2="385.60" y2="433.50"/>
<line class="o" x1="280.40" y1="433.50" x2="285.25" y2="433.50"/>
<line class="o" x1="227.50" y1="388.45" x2="280.40" y2="388.45"/>
<line class="o" x1="343.50" y1="388.45" x2="386.30" y2="388.45"/>
<line class="o" x1="285.25" y1="388.45" x2="285.25" y2="538.50"/>
<line class="o" x1="292.50" y1="388.45" x2="292.50" y2="538.50"/>
<line class="o" x1="326.90" y1="388.45" x2="326.90" y2="433.50" style="stroke-width:1.5;stroke:#2c2c2c"/>
<line class="o" x1="337.25" y1="388.45" x2="337.25" y2="433.50" style="stroke-width:1.5;stroke:#2c2c2c"/>
<path class="o" d="M285.25,433.5 L282.5,433.5 L282.5,441.5 L285.25,441.5"/>
<line class="o" x1="292.50" y1="433.50" x2="300.40" y2="433.50"/>
<line class="o" x1="292.50" y1="437.50" x2="300.40" y2="437.50"/>
<line class="o" x1="292.50" y1="441.50" x2="300.40" y2="441.50"/>
<path class="o" d="M320.6,433.5 L357.5,433.5 L357.5,441.6 L320.6,441.6"/>
<line class="o" x1="320.60" y1="437.60" x2="357.50" y2="437.60"/>
<path class="o" d="M322.3,441.6 L322.3,459.8 Q322.3,461.3 323.8,461.3 L340.4,461.3 Q341.9,461.3 341.9,459.8 L341.9,441.6"/>
<line class="o" x1="327.50" y1="441.60" x2="327.50" y2="461.30" style="stroke-width:0.7"/>
<line class="o" x1="337.50" y1="441.60" x2="337.50" y2="461.30" style="stroke-width:0.7"/>
<path class="o" d="M326.9,461.3 L326.9,470.6 L330.5,470.6 L332.5,469.4 L334.5,470.6 L338.1,470.6 L338.1,461.3"/>
<path class="o" d="M301.3,388.45 L301.3,394.4 M320,388.45 L320,394.4"/>
<rect class="o" x="299.1" y="394.4" width="22.8" height="7.1" rx="0.8"/>
<line class="o" x1="303.80" y1="394.40" x2="303.80" y2="401.50"/>
<line class="o" x1="317.00" y1="394.40" x2="317.00" y2="401.50"/>
<rect class="o" x="299.4" y="401.5" width="22.2" height="6" rx="2.6"/>
<path class="o" d="M300.7,407.5 L300.7,421 M320.9,407.5 L320.9,421"/>
<line class="o" x1="306.60" y1="407.50" x2="306.60" y2="421.50"/>
<line class="o" x1="314.40" y1="407.50" x2="314.40" y2="421.50"/>
<path class="o" d="M299.6,421 L321.4,421 M300.7,421 Q303.6,425.2 306.6,421.6 Q310.5,425.2 314.4,421.6 Q317.6,425.2 320.9,421"/>
<path class="o" d="M300.4,430 L299.6,429 L299.6,422 Q299.6,421 300.6,421 M320.6,430 L321.4,429 L321.4,422 Q321.4,421 320.4,421"/>
<path clip-path="url(#hclip)" d="M300.3,417.80 L309.1,409.55 M306.7,418.83 L316.05,428.00 M313.7,418.55 L320.5,411.95 M300.3,418.80 L303.40000000000003,421.76 M300.3,424.30 L309.1,416.05 M306.7,425.33 L316.05,434.50 M313.7,425.05 L320.5,418.45 M300.3,425.30 L303.40000000000003,428.26 M300.3,430.80 L309.1,422.55 M306.7,431.83 L316.05,441.00 M313.7,431.55 L320.5,424.95 M300.3,431.80 L303.40000000000003,434.76 M300.3,437.30 L309.1,429.05 M306.7,438.33 L316.05,447.50 M313.7,438.05 L320.5,431.45 M300.3,438.30 L303.40000000000003,441.26 M300.3,443.80 L309.1,435.55 M306.7,444.83 L316.05,454.00 M313.7,444.55 L320.5,437.95 M300.3,444.80 L303.40000000000003,447.76 M300.3,450.30 L309.1,442.05 M306.7,451.33 L316.05,460.50 M313.7,451.05 L320.5,444.45 M300.3,451.30 L303.40000000000003,454.26 M300.3,456.80 L309.1,448.55 M306.7,457.83 L316.05,467.00 M313.7,457.55 L320.5,450.95 M300.3,457.80 L303.40000000000003,460.76 M300.3,463.30 L309.1,455.05 M306.7,464.33 L316.05,473.50 M313.7,464.05 L320.5,457.45 M300.3,464.30 L303.40000000000003,467.26 M300.3,469.80 L309.1,461.55 M306.7,470.83 L316.05,480.00 M313.7,470.55 L320.5,463.95 M300.3,470.80 L303.40000000000003,473.76 M300.3,476.30 L309.1,468.05 M306.7,477.33 L316.05,486.50 M313.7,477.05 L320.5,470.45 M300.3,477.30 L303.40000000000003,480.26 M300.3,482.80 L309.1,474.55 M306.7,483.83 L316.05,493.00 M313.7,483.55 L320.5,476.95 M300.3,483.80 L303.40000000000003,486.76 M300.3,489.30 L309.1,481.05 M306.7,490.33 L316.05,499.50 M313.7,490.05 L320.5,483.45 M300.3,490.30 L303.40000000000003,493.26 M300.3,495.80 L309.1,487.55 M306.7,496.83 L316.05,506.00 M313.7,496.55 L320.5,489.95 M300.3,496.80 L303.40000000000003,499.76 M300.3,502.30 L309.1,494.05 M306.7,503.33 L316.05,512.50 M313.7,503.05 L320.5,496.45 M300.3,503.30 L303.40000000000003,506.26 M300.3,508.80 L309.1,500.55 M306.7,509.83 L316.05,519.00 M313.7,509.55 L320.5,502.95 M300.3,509.80 L303.40000000000003,512.76 M300.3,515.30 L309.1,507.05 M306.7,516.33 L316.05,525.50 M313.7,516.05 L320.5,509.45 M300.3,516.30 L303.40000000000003,519.26 M300.3,521.80 L309.1,513.55 M306.7,522.83 L316.05,532.00 M313.7,522.55 L320.5,515.95 M300.3,522.80 L303.40000000000003,525.76 M300.3,528.30 L309.1,520.05 M306.7,529.33 L316.05,538.50 M313.7,529.05 L320.5,522.45 M300.3,529.30 L303.40000000000003,532.26 M300.3,534.80 L309.1,526.55 M306.7,535.83 L316.05,545.00 M313.7,535.55 L320.5,528.95 M300.3,535.80 L303.40000000000003,538.76 M300.3,541.30 L309.1,533.05 M306.7,542.33 L316.05,551.50 M313.7,542.05 L320.5,535.45 M300.3,542.30 L303.40000000000003,545.26 M300.3,547.80 L309.1,539.55 M306.7,548.83 L316.05,558.00 M313.7,548.55 L320.5,541.95 M300.3,548.80 L303.40000000000003,551.76" fill="none" stroke="#303030" stroke-width="1.08"/>
<line class="o" x1="300.30" y1="430.00" x2="300.30" y2="538.50"/>
<line class="o" x1="320.50" y1="430.00" x2="320.50" y2="538.50"/>
<line class="o" x1="300.40" y1="430.00" x2="320.60" y2="430.00"/>
</g>
<g class="u" transform="translate(305.5,0)">
<path d="M227.5,388.45 L224.3,397.5 L228.8,410.5 L224,421.9 L228.1,433.5 L280.4,433.5 L280.4,388.45 Z" fill="url(#stip)" stroke="none"/>
<path d="M343.5,388.45 L386.3,388.45 L391.3,393.2 L388.1,406.3 L392.5,420.6 L385.6,433.5 L343.5,433.5 Z" fill="url(#stip)" stroke="none"/>
<path class="o" d="M227.5,388.45 L224.3,397.5 L228.8,410.5 L224,421.9 L228.1,433.5 L280.4,433.5"/>
<line class="o" x1="280.40" y1="388.45" x2="280.40" y2="433.50"/>
<path class="o" d="M386.3,388.45 L391.3,393.2 L388.1,406.3 L392.5,420.6 L385.6,433.5"/>
<line class="o" x1="343.50" y1="388.45" x2="343.50" y2="433.50"/>
<line class="o" x1="343.50" y1="433.50" x2="385.60" y2="433.50"/>
<line class="o" x1="280.40" y1="433.50" x2="285.25" y2="433.50"/>
<line class="o" x1="227.50" y1="388.45" x2="280.40" y2="388.45"/>
<line class="o" x1="343.50" y1="388.45" x2="386.30" y2="388.45"/>
<line class="o" x1="285.25" y1="388.45" x2="285.25" y2="538.50"/>
<line class="o" x1="292.50" y1="388.45" x2="292.50" y2="538.50"/>
<line class="o" x1="326.90" y1="388.45" x2="326.90" y2="433.50" style="stroke-width:1.5;stroke:#2c2c2c"/>
<line class="o" x1="337.25" y1="388.45" x2="337.25" y2="433.50" style="stroke-width:1.5;stroke:#2c2c2c"/>
<path class="o" d="M285.25,433.5 L282.5,433.5 L282.5,441.5 L285.25,441.5"/>
<line class="o" x1="292.50" y1="433.50" x2="300.40" y2="433.50"/>
<line class="o" x1="292.50" y1="437.50" x2="300.40" y2="437.50"/>
<line class="o" x1="292.50" y1="441.50" x2="300.40" y2="441.50"/>
<path class="o" d="M320.6,433.5 L357.5,433.5 L357.5,441.6 L320.6,441.6"/>
<line class="o" x1="320.60" y1="437.60" x2="357.50" y2="437.60"/>
<path class="o" d="M322.3,441.6 L322.3,459.8 Q322.3,461.3 323.8,461.3 L340.4,461.3 Q341.9,461.3 341.9,459.8 L341.9,441.6"/>
<line class="o" x1="327.50" y1="441.60" x2="327.50" y2="461.30" style="stroke-width:0.7"/>
<line class="o" x1="337.50" y1="441.60" x2="337.50" y2="461.30" style="stroke-width:0.7"/>
<path class="o" d="M326.9,461.3 L326.9,470.6 L330.5,470.6 L332.5,469.4 L334.5,470.6 L338.1,470.6 L338.1,461.3"/>
<path class="o" d="M301.3,388.45 L301.3,394.4 M320,388.45 L320,394.4"/>
<rect class="o" x="299.1" y="394.4" width="22.8" height="7.1" rx="0.8"/>
<line class="o" x1="303.80" y1="394.40" x2="303.80" y2="401.50"/>
<line class="o" x1="317.00" y1="394.40" x2="317.00" y2="401.50"/>
<rect class="o" x="299.4" y="401.5" width="22.2" height="6" rx="2.6"/>
<path class="o" d="M300.7,407.5 L300.7,421 M320.9,407.5 L320.9,421"/>
<line class="o" x1="306.60" y1="407.50" x2="306.60" y2="421.50"/>
<line class="o" x1="314.40" y1="407.50" x2="314.40" y2="421.50"/>
<path class="o" d="M299.6,421 L321.4,421 M300.7,421 Q303.6,425.2 306.6,421.6 Q310.5,425.2 314.4,421.6 Q317.6,425.2 320.9,421"/>
<path class="o" d="M300.4,430 L299.6,429 L299.6,422 Q299.6,421 300.6,421 M320.6,430 L321.4,429 L321.4,422 Q321.4,421 320.4,421"/>
<path clip-path="url(#hclip)" d="M300.3,417.80 L309.1,409.55 M306.7,418.83 L316.05,428.00 M313.7,418.55 L320.5,411.95 M300.3,418.80 L303.40000000000003,421.76 M300.3,424.30 L309.1,416.05 M306.7,425.33 L316.05,434.50 M313.7,425.05 L320.5,418.45 M300.3,425.30 L303.40000000000003,428.26 M300.3,430.80 L309.1,422.55 M306.7,431.83 L316.05,441.00 M313.7,431.55 L320.5,424.95 M300.3,431.80 L303.40000000000003,434.76 M300.3,437.30 L309.1,429.05 M306.7,438.33 L316.05,447.50 M313.7,438.05 L320.5,431.45 M300.3,438.30 L303.40000000000003,441.26 M300.3,443.80 L309.1,435.55 M306.7,444.83 L316.05,454.00 M313.7,444.55 L320.5,437.95 M300.3,444.80 L303.40000000000003,447.76 M300.3,450.30 L309.1,442.05 M306.7,451.33 L316.05,460.50 M313.7,451.05 L320.5,444.45 M300.3,451.30 L303.40000000000003,454.26 M300.3,456.80 L309.1,448.55 M306.7,457.83 L316.05,467.00 M313.7,457.55 L320.5,450.95 M300.3,457.80 L303.40000000000003,460.76 M300.3,463.30 L309.1,455.05 M306.7,464.33 L316.05,473.50 M313.7,464.05 L320.5,457.45 M300.3,464.30 L303.40000000000003,467.26 M300.3,469.80 L309.1,461.55 M306.7,470.83 L316.05,480.00 M313.7,470.55 L320.5,463.95 M300.3,470.80 L303.40000000000003,473.76 M300.3,476.30 L309.1,468.05 M306.7,477.33 L316.05,486.50 M313.7,477.05 L320.5,470.45 M300.3,477.30 L303.40000000000003,480.26 M300.3,482.80 L309.1,474.55 M306.7,483.83 L316.05,493.00 M313.7,483.55 L320.5,476.95 M300.3,483.80 L303.40000000000003,486.76 M300.3,489.30 L309.1,481.05 M306.7,490.33 L316.05,499.50 M313.7,490.05 L320.5,483.45 M300.3,490.30 L303.40000000000003,493.26 M300.3,495.80 L309.1,487.55 M306.7,496.83 L316.05,506.00 M313.7,496.55 L320.5,489.95 M300.3,496.80 L303.40000000000003,499.76 M300.3,502.30 L309.1,494.05 M306.7,503.33 L316.05,512.50 M313.7,503.05 L320.5,496.45 M300.3,503.30 L303.40000000000003,506.26 M300.3,508.80 L309.1,500.55 M306.7,509.83 L316.05,519.00 M313.7,509.55 L320.5,502.95 M300.3,509.80 L303.40000000000003,512.76 M300.3,515.30 L309.1,507.05 M306.7,516.33 L316.05,525.50 M313.7,516.05 L320.5,509.45 M300.3,516.30 L303.40000000000003,519.26 M300.3,521.80 L309.1,513.55 M306.7,522.83 L316.05,532.00 M313.7,522.55 L320.5,515.95 M300.3,522.80 L303.40000000000003,525.76 M300.3,528.30 L309.1,520.05 M306.7,529.33 L316.05,538.50 M313.7,529.05 L320.5,522.45 M300.3,529.30 L303.40000000000003,532.26 M300.3,534.80 L309.1,526.55 M306.7,535.83 L316.05,545.00 M313.7,535.55 L320.5,528.95 M300.3,535.80 L303.40000000000003,538.76 M300.3,541.30 L309.1,533.05 M306.7,542.33 L316.05,551.50 M313.7,542.05 L320.5,535.45 M300.3,542.30 L303.40000000000003,545.26 M300.3,547.80 L309.1,539.55 M306.7,548.83 L316.05,558.00 M313.7,548.55 L320.5,541.95 M300.3,548.80 L303.40000000000003,551.76" fill="none" stroke="#303030" stroke-width="1.08"/>
<line class="o" x1="300.30" y1="430.00" x2="300.30" y2="538.50"/>
<line class="o" x1="320.50" y1="430.00" x2="320.50" y2="538.50"/>
<line class="o" x1="300.40" y1="430.00" x2="320.60" y2="430.00"/>
</g>
<line class="d" x1="566.30" y1="93.50" x2="566.30" y2="129.00"/>
<line class="d" x1="658.70" y1="93.50" x2="658.70" y2="129.00"/>
<line class="d" x1="566.30" y1="99.40" x2="658.70" y2="99.40"/>
<polygon class="a" points="566.30,99.40 577.10,101.20 577.10,97.60"/>
<polygon class="a" points="658.70,99.40 647.90,97.60 647.90,101.20"/>
<text class="t" text-anchor="middle" x="612.70" y="96.30" textLength="29.5" lengthAdjust="spacingAndGlyphs">51.2</text>
<line class="d" x1="658.70" y1="129.00" x2="726.00" y2="129.00"/>
<line class="d" x1="720.00" y1="129.00" x2="720.00" y2="433.50"/>
<polygon class="a" points="720.00,129.00 718.20,139.80 721.80,139.80"/>
<polygon class="a" points="720.00,388.45 721.80,377.65 718.20,377.65"/>
<polygon class="a" points="720.00,388.45 718.20,399.25 721.80,399.25"/>
<polygon class="a" points="720.00,433.50 721.80,422.70 718.20,422.70"/>
<text class="t" text-anchor="middle" transform="translate(717.40,257.80) rotate(-90)" textLength="37" lengthAdjust="spacingAndGlyphs">143.7</text>
<text class="t" text-anchor="middle" transform="translate(717.40,412.00) rotate(-90)" textLength="42" lengthAdjust="spacingAndGlyphs">Max37</text>
<line class="d" x1="533.50" y1="388.45" x2="726.00" y2="388.45"/>
<line class="d" x1="691.10" y1="433.50" x2="726.00" y2="433.50"/>
<line class="d" x1="562.90" y1="378.90" x2="686.50" y2="378.90"/>
<polygon class="a" points="562.90,378.90 573.70,380.70 573.70,377.10"/>
<polygon class="a" points="686.50,378.90 675.70,377.10 675.70,380.70"/>
<line class="d" x1="686.50" y1="365.60" x2="686.50" y2="384.40"/>
<text class="t" text-anchor="middle" x="620.20" y="376.30" textLength="29.5" lengthAdjust="spacingAndGlyphs">68.5</text>
<line class="c" x1="612.50" y1="125.00" x2="612.50" y2="388.00"/>
<path class="o" d="M562.9,176 L562.9,388.45"/>
<path class="o" d="M662.1,176 L662.0,337.4 M662.0,362.6 L662.0,388.45"/>
<rect class="o" x="600" y="306.3" width="25" height="48.8" rx="12.5"/>
<rect class="o" x="668.5" y="297.0" width="18.0" height="43.5"/>
<line class="o" x1="668.50" y1="301.40" x2="686.50" y2="301.40"/>
<line class="o" x1="668.50" y1="333.50" x2="686.50" y2="333.50"/>
<path class="o" d="M668.5,337.4 L662.0,337.4 C658.8,345 658.8,354.5 662.0,362.6 L662.0,362.9 L686.5,362.9 L686.5,340.5"/>
<g class="u">
<path class="o" d="M612.5,128.5 L577,128.6 C571,129.2 567.5,130 566.6,131.5 C565.2,137 563.6,150 562.9,163 L562.7,178"/>
<g transform="translate(1225.0,0) scale(-1,1)"><path class="o" d="M612.5,128.5 L577,128.6 C571,129.2 567.5,130 566.6,131.5 C565.2,137 563.6,150 562.9,163 L562.7,178"/></g>
<path class="o" d="M612.5,131 L593.2,131 C583,131.6 571,133 566.8,135.2"/>
<g transform="translate(1225.0,0) scale(-1,1)"><path class="o" d="M612.5,131 L593.2,131 C583,131.6 571,133 566.8,135.2"/></g>
<path class="o" d="M612.5,133.4 L593.3,133.4"/>
<g transform="translate(1225.0,0) scale(-1,1)"><path class="o" d="M612.5,133.4 L593.3,133.4"/></g>
<path class="o" d="M593.3,128.6 L593.3,145"/>
<g transform="translate(1225.0,0) scale(-1,1)"><path class="o" d="M593.3,128.6 L593.3,145"/></g>
<path class="o" d="M583.4,131.8 C584,137 585.6,141.5 587.8,145.5"/>
<g transform="translate(1225.0,0) scale(-1,1)"><path class="o" d="M583.4,131.8 C584,137 585.6,141.5 587.8,145.5"/></g>
<path class="o" d="M612.5,144.1 C600,144.1 586,145.4 577.7,150.2"/>
<g transform="translate(1225.0,0) scale(-1,1)"><path class="o" d="M612.5,144.1 C600,144.1 586,145.4 577.7,150.2"/></g>
<path class="o" d="M566.8,135.2 C566.5,140 569.5,146.5 577.7,150.2"/>
<g transform="translate(1225.0,0) scale(-1,1)"><path class="o" d="M566.8,135.2 C566.5,140 569.5,146.5 577.7,150.2"/></g>
<path class="o" d="M564.4,145 C565.5,153 570,160.5 576.8,165 C581,167.2 585.5,168.6 589.5,169.6"/>
<g transform="translate(1225.0,0) scale(-1,1)"><path class="o" d="M564.4,145 C565.5,153 570,160.5 576.8,165 C581,167.2 585.5,168.6 589.5,169.6"/></g>
<path class="o" d="M577.7,150.2 C576.2,154 575.6,158 575.5,163 L575.5,182.6"/>
<g transform="translate(1225.0,0) scale(-1,1)"><path class="o" d="M577.7,150.2 C576.2,154 575.6,158 575.5,163 L575.5,182.6"/></g>
<path class="o" d="M569.8,162.4 L566.8,170.5 L563.2,178"/>
<g transform="translate(1225.0,0) scale(-1,1)"><path class="o" d="M569.8,162.4 L566.8,170.5 L563.2,178"/></g>
<path class="o" d="M562.7,178 C575,183.5 595,186.4 612.5,186.4"/>
<g transform="translate(1225.0,0) scale(-1,1)"><path class="o" d="M562.7,178 C575,183.5 595,186.4 612.5,186.4"/></g>
<path class="o" d="M595.2,145.2 Q600.0,149.9 601.6,157.0" style="stroke-width:0.9"/>
<g transform="translate(1225.0,0) scale(-1,1)"><path class="o" d="M595.2,145.2 Q600.0,149.9 601.6,157.0" style="stroke-width:0.9"/></g>
<path class="o" d="M591.0,145.6 Q596.1,150.9 598.0,158.6" style="stroke-width:0.9"/>
<g transform="translate(1225.0,0) scale(-1,1)"><path class="o" d="M591.0,145.6 Q596.1,150.9 598.0,158.6" style="stroke-width:0.9"/></g>
<path class="o" d="M587.7,146.4 Q592.6,152.2 594.4,160.4" style="stroke-width:0.9"/>
<g transform="translate(1225.0,0) scale(-1,1)"><path class="o" d="M587.7,146.4 Q592.6,152.2 594.4,160.4" style="stroke-width:0.9"/></g>
<path class="o" d="M583.5,147.7 Q589.1,153.7 591.4,162.0" style="stroke-width:0.9"/>
<g transform="translate(1225.0,0) scale(-1,1)"><path class="o" d="M583.5,147.7 Q589.1,153.7 591.4,162.0" style="stroke-width:0.9"/></g>
<path class="o" d="M577.9,151.7 Q584.9,156.6 588.8,163.8" style="stroke-width:0.9"/>
<g transform="translate(1225.0,0) scale(-1,1)"><path class="o" d="M577.9,151.7 Q584.9,156.6 588.8,163.8" style="stroke-width:0.9"/></g>
<path class="o" d="M576.9,155.8 Q584.1,159.5 588.2,165.6" style="stroke-width:0.9"/>
<g transform="translate(1225.0,0) scale(-1,1)"><path class="o" d="M576.9,155.8 Q584.1,159.5 588.2,165.6" style="stroke-width:0.9"/></g>
<path class="o" d="M576.4,159.4 Q583.9,162.3 588.2,167.6" style="stroke-width:0.9"/>
<g transform="translate(1225.0,0) scale(-1,1)"><path class="o" d="M576.4,159.4 Q583.9,162.3 588.2,167.6" style="stroke-width:0.9"/></g>
<path class="o" d="M605.5,174.5 L605.5,186.2"/>
<g transform="translate(1225.0,0) scale(-1,1)"><path class="o" d="M605.5,174.5 L605.5,186.2"/></g>
</g>
<ellipse cx="612.5" cy="166.3" rx="24.4" ry="7.8" fill="#fff" stroke="#222" stroke-width="1.1"/>
<path d="M599.5,160.0 Q612.5,155.9 625.5,160.0" fill="none" stroke="#151515" stroke-width="1.7"/>
<path d="M590.90,166.60 A21.6,7.3 0 1 0 634.10,166.60 A21.6,7.3 0 1 0 590.90,166.60 Z M594.70,167.20 A17.8,5.4 0 1 0 630.30,167.20 A17.8,5.4 0 1 0 594.70,167.20 Z" fill="#151515" fill-rule="evenodd" stroke="none"/>
<ellipse class="o" cx="612.5" cy="167.7" rx="16.2" ry="5.3" style="stroke-width:0.7"/>
<ellipse class="o" cx="612.5" cy="168.4" rx="14.8" ry="5.0" style="stroke-width:0.7"/>
<ellipse cx="612.5" cy="169.4" rx="13.6" ry="4.9" fill="#1c1c1c" stroke="#222" stroke-width="0.6"/>
<ellipse cx="594.6" cy="165.4" rx="0.9" ry="1.6" fill="#fff" stroke="none"/>
<ellipse cx="630.4" cy="165.4" rx="0.9" ry="1.6" fill="#fff" stroke="none"/>
</svg>
</body></html>
